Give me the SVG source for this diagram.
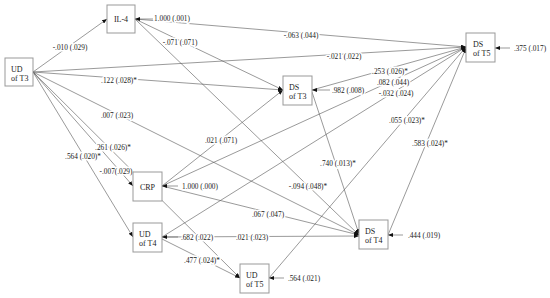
<svg xmlns="http://www.w3.org/2000/svg" width="550" height="298" viewBox="0 0 550 298">
<style>
.ln{stroke:#555;stroke-width:0.6;fill:none}
.ar{marker-end:url(#ah)}
.lb{font-family:"Liberation Serif","Times New Roman",serif;font-size:7.3px;fill:#222;text-anchor:middle;stroke:#fff;stroke-width:3;paint-order:stroke;stroke-linejoin:round}
.box{fill:#fff;stroke:#999;stroke-width:1}
.nt{font-family:"Liberation Serif","Times New Roman",serif;font-size:8px;fill:#222}
.nc{text-anchor:middle}
</style>
<defs>
<marker id="ah" markerWidth="5" markerHeight="4" refX="5" refY="2" orient="auto" markerUnits="userSpaceOnUse">
<path d="M0,0 L5,2 L0,4 Z" fill="#111"/>
</marker>
</defs>
<rect width="550" height="298" fill="#fff"/>
<g id="connectors">
<line class="ln ar" x1="33" y1="72" x2="107" y2="19"/>
<line class="ln ar" x1="33" y1="72" x2="466" y2="47"/>
<line class="ln ar" x1="33" y1="72" x2="283" y2="90"/>
<line class="ln ar" x1="33" y1="72" x2="359" y2="235"/>
<line class="ln ar" x1="33" y1="72" x2="133" y2="186"/>
<line class="ln ar" x1="33" y1="72" x2="133" y2="237"/>
<line class="ln ar" x1="33" y1="72" x2="240" y2="278"/>
<line class="ln ar" x1="135" y1="19" x2="466" y2="47"/>
<line class="ln ar" x1="135" y1="19" x2="283" y2="90"/>
<line class="ln ar" x1="136" y1="20" x2="359" y2="235"/>
<line class="ln ar" x1="162" y1="186" x2="283" y2="90"/>
<line class="ln ar" x1="162" y1="186" x2="466" y2="47"/>
<line class="ln ar" x1="162" y1="186" x2="359" y2="235"/>
<line class="ln ar" x1="162" y1="237" x2="466" y2="47"/>
<line class="ln ar" x1="162" y1="237" x2="359" y2="236"/>
<line class="ln ar" x1="162" y1="239" x2="240" y2="278"/>
<line class="ln ar" x1="269" y1="278" x2="466" y2="47"/>
<line class="ln ar" x1="312" y1="90" x2="466" y2="47"/>
<line class="ln ar" x1="312" y1="92" x2="359" y2="234"/>
<line class="ln ar" x1="388" y1="235" x2="466" y2="48"/>
<line class="ln ar" x1="153" y1="19" x2="135" y2="19"/>
<line class="ln ar" x1="178" y1="186" x2="162" y2="186"/>
<line class="ln ar" x1="178" y1="237" x2="162" y2="237"/>
<line class="ln ar" x1="284" y1="278" x2="269" y2="278"/>
<line class="ln ar" x1="330" y1="90" x2="312" y2="90"/>
<line class="ln ar" x1="403" y1="235" x2="388" y2="235"/>
<line class="ln ar" x1="510" y1="48" x2="495" y2="48"/>
<text class="lb" x="70" y="49.5">-.010 (.029)</text>
<text class="lb" x="344" y="58.5">-.021 (.022)</text>
<text class="lb" x="119" y="82.5">.122 (.028)*</text>
<text class="lb" x="117" y="117.5">.007 (.023)</text>
<text class="lb" x="113" y="149.5">.261 (.026)*</text>
<text class="lb" x="83" y="158.5">.564 (.020)*</text>
<text class="lb" x="116" y="173.5">-.007(.029)</text>
<text class="lb" x="301" y="37.5">-.063 (.044)</text>
<text class="lb" x="180" y="44.5">-.071 (.071)</text>
<text class="lb" x="308" y="188.5">-.094 (.048)*</text>
<text class="lb" x="221" y="142.5">.021 (.071)</text>
<text class="lb" x="393" y="84.5">.082 (.044)</text>
<text class="lb" x="268" y="216.5">.067 (.047)</text>
<text class="lb" x="396" y="95.5">-.032 (.024)</text>
<text class="lb" x="252" y="239.5">.021 (.023)</text>
<text class="lb" x="202" y="262.5">.477 (.024)*</text>
<text class="lb" x="407" y="122.5">.055 (.023)*</text>
<text class="lb" x="390" y="73.5">.253 (.026)*</text>
<text class="lb" x="338" y="165.5">.740 (.013)*</text>
<text class="lb" x="430" y="145.5">.583 (.024)*</text>
<text class="lb" x="172" y="20.5">1.000 (.001)</text>
<text class="lb" x="200" y="188.5">1.000 (.000)</text>
<text class="lb" x="197" y="239.5">.682 (.022)</text>
<text class="lb" x="304" y="280.5">.564 (.021)</text>
<text class="lb" x="348" y="92.5">.982 (.008)</text>
<text class="lb" x="424" y="237.5">.444 (.019)</text>
<text class="lb" x="530" y="50.5">.375 (.017)</text>
</g>
<g id="node-ud-t3"><rect class="box" x="5" y="58" width="28" height="28"/><text class="nt" x="11" y="71.5">UD</text><text class="nt" x="11" y="80.5">of T3</text></g>
<g id="node-il4"><rect class="box" x="107" y="5" width="28" height="28"/><text class="nt nc" x="121" y="22">IL-4</text></g>
<g id="node-ds-t5"><rect class="box" x="466" y="33" width="29" height="29"/><text class="nt" x="473" y="46.5">DS</text><text class="nt" x="473" y="55.5">of T5</text></g>
<g id="node-ds-t3"><rect class="box" x="283" y="76" width="29" height="29"/><text class="nt" x="289" y="89.5">DS</text><text class="nt" x="289" y="98.5">of T3</text></g>
<g id="node-crp"><rect class="box" x="133" y="172" width="29" height="29"/><text class="nt nc" x="147.5" y="189.5">CRP</text></g>
<g id="node-ud-t4"><rect class="box" x="133" y="223" width="29" height="29"/><text class="nt" x="139" y="236.5">UD</text><text class="nt" x="139" y="245.5">of T4</text></g>
<g id="node-ud-t5"><rect class="box" x="240" y="264" width="29" height="29"/><text class="nt" x="246" y="277.5">UD</text><text class="nt" x="246" y="286.5">of T5</text></g>
<g id="node-ds-t4"><rect class="box" x="359" y="220" width="29" height="29"/><text class="nt" x="365" y="233.5">DS</text><text class="nt" x="365" y="242.5">of T4</text></g>
</svg>
